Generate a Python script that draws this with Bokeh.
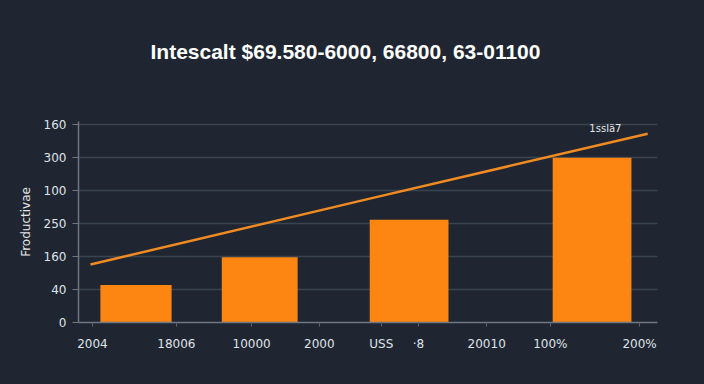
from bokeh.plotting import figure
from bokeh.models import FixedTicker, Range1d, Label, Title
from bokeh.embed import file_html
from bokeh.resources import INLINE

BG = "#1f2631"

# data
title_text = "Intescalt $69.580-6000, 66800, 63-01100"
y_axis_title = "Froductivae"
y_tick_values = [0, 1, 2, 3, 4, 5, 6]
y_tick_labels = ["0", "40", "160", "250", "100", "300", "160"]
x_tick_values = [2.4, 16.9, 29.9, 41.6, 52.3, 58.7, 70.5, 81.5, 96.9]
x_tick_labels = ["2004", "18006", "10000", "2000", "USS", "\u00b78", "20010", "100%", "200%"]
bar_x = [9.93, 31.3, 57.1, 88.7]
bar_w = [12.3, 13.1, 13.6, 13.6]
bar_values = [1.14, 1.98, 3.12, 5.0]
line_x = [2.07, 50.3, 98.3]
line_y = [1.76, 3.76, 5.73]
note_text = "1ssl\u00e47"
note_x = 91.0
note_y = 5.88

p = figure(width=704, height=384, output_backend="svg", toolbar_location=None,
           x_range=Range1d(0, 100), y_range=Range1d(0, 6.1),
           min_border_left=78, min_border_right=47, min_border_top=121,
           min_border_bottom=62)
p.background_fill_color = BG
p.border_fill_color = BG
p.outline_line_color = None

p.title.text = title_text
p.title.text_color = "#ffffff"
p.title.text_font = "Liberation Sans"
p.title.text_font_size = "21px"
p.title.text_font_style = "bold"
p.title.align = "left"
p.title.offset = 72
p.title.standoff = 10

# empty spacer panel between the heading and the plotting frame
p.add_layout(Title(text=" ", text_font_size="2px", standoff=50), "above")

p.vbar(x=bar_x, width=bar_w, top=bar_values, bottom=0, color="#fd8613", line_color=None)
p.line(line_x, line_y, line_color="#f08a22", line_width=2.5)
p.add_layout(Label(x=note_x, y=note_y, text=note_text, text_color="#e6e6e6",
                   text_font="DejaVu Sans", text_font_size="10px",
                   text_align="center", text_baseline="middle"))

p.xgrid.visible = False
p.ygrid.ticker = FixedTicker(ticks=y_tick_values)
p.ygrid.grid_line_color = "#3a4350"
p.ygrid.grid_line_width = 1.5

ya = p.yaxis[0]
ya.ticker = FixedTicker(ticks=y_tick_values)
ya.major_label_overrides = {v: s for v, s in zip(y_tick_values, y_tick_labels)}
ya.axis_line_color = "#6e7784"
ya.axis_line_width = 1.5
ya.major_tick_line_color = "#6e7784"
ya.major_tick_out = 6
ya.major_tick_in = 0
ya.minor_tick_line_color = None
ya.major_label_text_color = "#dfe3e8"
ya.major_label_text_font = "DejaVu Sans"
ya.major_label_text_font_size = "12px"
ya.major_label_standoff = 6
ya.axis_label = y_axis_title
ya.axis_label_text_color = "#e6e6e6"
ya.axis_label_text_font = "DejaVu Sans"
ya.axis_label_text_font_size = "12px"
ya.axis_label_text_font_style = "normal"
ya.axis_label_standoff = 8

xa = p.xaxis[0]
xa.ticker = FixedTicker(ticks=x_tick_values)
xa.major_label_overrides = {v: s for v, s in zip(x_tick_values, x_tick_labels)}
xa.axis_line_color = "#6e7784"
xa.axis_line_width = 1.5
xa.major_tick_line_color = "#5a6370"
xa.major_tick_out = 4
xa.major_tick_in = 0
xa.minor_tick_line_color = None
xa.major_label_text_color = "#dfe3e8"
xa.major_label_text_font = "DejaVu Sans"
xa.major_label_text_font_size = "12px"
xa.major_label_standoff = 10

html = file_html(p, INLINE)
html = html.replace("</head>", "<style>html, body { background: %s; }</style>\n</head>" % BG, 1)
open("out.html", "w").write(html)
